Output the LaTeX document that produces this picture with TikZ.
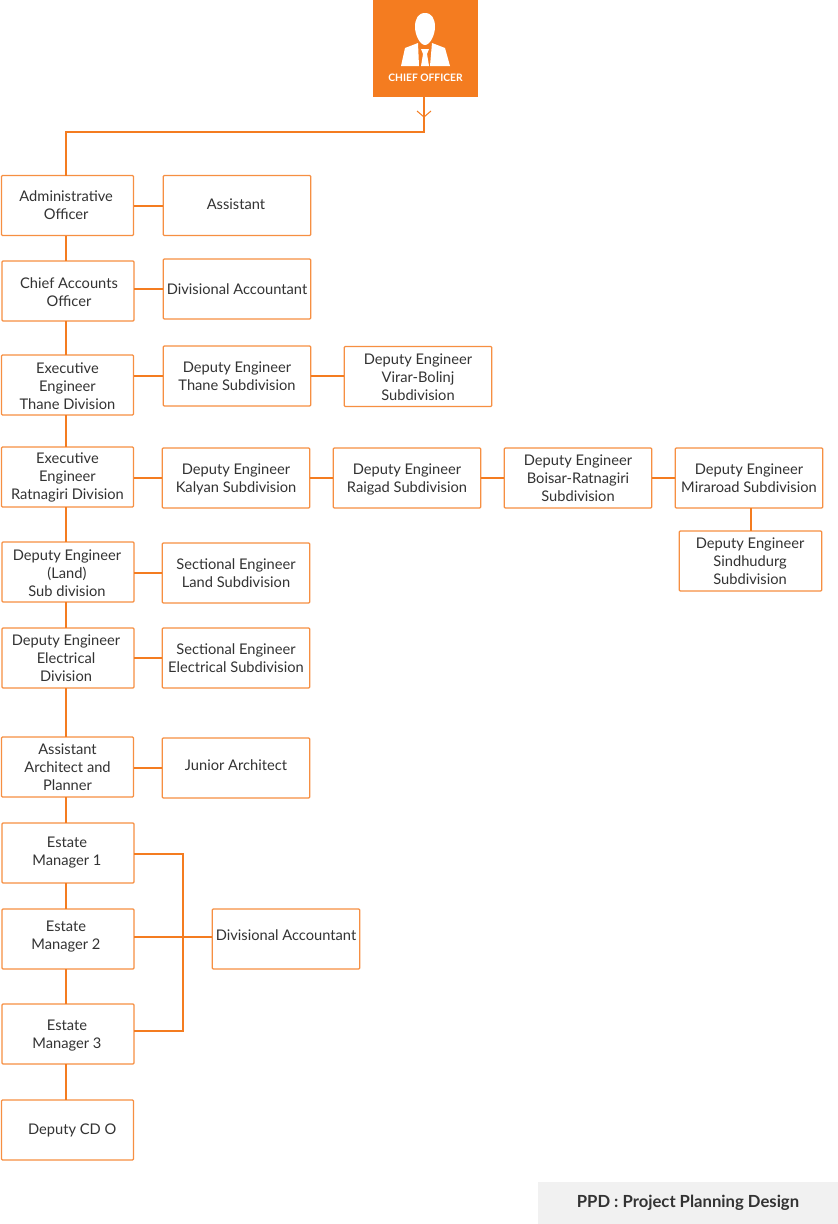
\documentclass[tikz,border=0pt]{standalone}
\usepackage{fontspec}
\setmainfont{Lato}
\definecolor{orgorange}{HTML}{F47C20}
\definecolor{orgedge}{HTML}{F68F42}
\definecolor{orgtext}{HTML}{333333}
\definecolor{orgband}{HTML}{F1F1F1}
\newcommand{\nudged}[3]{\leavevmode\kern#1\raisebox{#2}[\height][\depth]{\begin{tabular}{@{}c@{}}#3\end{tabular}}\kern-#1}
\tikzset{
  orgbox/.style={rectangle, draw=orgedge, line width=0.9pt, rounded corners=0.8pt, fill=white, text=orgtext, inner sep=0pt, outer sep=0pt, align=center, font=\fontsize{11pt}{13.5pt}\selectfont},
  mainbox/.style={orgbox, minimum width=99pt, minimum height=45pt},
  sidebox/.style={orgbox, minimum width=110.6pt, minimum height=45pt},
  orgline/.style={draw=orgorange, line width=1.5pt}
}
\begin{document}
\begin{tikzpicture}[x=0.75pt, y=-0.75pt]
      \useasboundingbox (0,0) rectangle (838,1224);

      \node[rectangle, fill=orgorange, minimum width=78.75pt, minimum height=72.75pt, inner sep=0pt, outer sep=0pt](chief) at (425.5,48.5){};
      \node[text=white, inner sep=0pt, font=\fontsize{7.7pt}{9pt}\selectfont\bfseries](chieflabel) at (425.5,77.5){CHIEF OFFICER};

      \node[mainbox](admin) at ( 67.5, 205.5){\nudged{-1pt}{-0.75pt}{Administrative\\Officer}};
      \node[sidebox](assistant) at (237.0, 205.5){\nudged{-0.75pt}{-0.35pt}{Assistant}};
      \node[mainbox](accounts) at ( 68.0, 291.0){\nudged{0.75pt}{-2.25pt}{Chief Accounts\\Officer}};
      \node[sidebox](divacc) at (237.0, 289.0){Divisional Accountant};
      \node[mainbox](exethane) at ( 67.5, 385.0){\nudged{0pt}{-2.25pt}{Executive\\Engineer\\Thane Division}};
      \node[sidebox](depthane) at (237.0, 376.0){Deputy Engineer\\Thane Subdivision};
      \node[sidebox](depvirar) at (418.0, 376.5){\nudged{0pt}{-1.5pt}{Deputy Engineer\\Virar-Bolinj\\Subdivision}};
      \node[mainbox](exeratna) at ( 67.5, 477.0){Executive\\Engineer\\Ratnagiri Division};
      \node[sidebox](depkalyan) at (236.0, 478.0){\nudged{0pt}{-1.5pt}{Deputy Engineer\\Kalyan Subdivision}};
      \node[sidebox](depraigad) at (407.0, 478.0){\nudged{0pt}{-1.5pt}{Deputy Engineer\\Raigad Subdivision}};
      \node[sidebox](depboisar) at (578.0, 478.0){Deputy Engineer\\Boisar-Ratnagiri\\Subdivision};
      \node[sidebox](depmira) at (749.0, 478.0){Deputy Engineer\\Miraroad Subdivision};
      \node[orgbox, minimum width=107pt, minimum height=45pt](depsindhu) at (750.5, 561.0){\nudged{-0.3pt}{-1.5pt}{Deputy Engineer\\Sindhudurg\\Subdivision}};
      \node[mainbox](depland) at ( 68.0, 572.0){\nudged{-0.75pt}{-2.25pt}{Deputy Engineer\\(Land)\\Sub division}};
      \node[sidebox](secland) at (236.0, 573.0){Sectional Engineer\\Land Subdivision};
      \node[mainbox](depelec) at ( 68.0, 658.0){\nudged{-1.5pt}{-1.5pt}{Deputy Engineer\\Electrical\\Division}};
      \node[sidebox](secelec) at (236.0, 658.0){Sectional Engineer\\Electrical Subdivision};
      \node[mainbox](architect) at ( 67.5, 767.0){Assistant\\Architect and\\Planner};
      \node[sidebox](junior) at (236.0, 768.0){\nudged{0pt}{0.75pt}{Junior Architect}};
      \node[mainbox](estateone) at ( 68.0, 853.0){\nudged{-0.75pt}{0pt}{Estate\\Manager 1}};
      \node[mainbox](estatetwo) at ( 68.0, 939.0){\nudged{-1.5pt}{1.5pt}{Estate\\Manager 2}};
      \node[mainbox](estatethree) at ( 68.0,1034.0){\nudged{-0.75pt}{-1.5pt}{Estate\\Manager 3}};
      \node[sidebox](divaccest) at (286.0, 939.0){\nudged{0pt}{1.5pt}{Divisional Accountant}};
      \node[mainbox](cdo) at ( 67.5,1130.0){\hspace*{7pt}Deputy CD O};

      \node[rectangle, fill=orgband, text=orgtext, minimum width=225pt, minimum height=31.5pt, inner sep=0pt, font=\fontsize{12.5pt}{14pt}\selectfont\bfseries](ppd) at (688,1203){PPD : Project Planning Design};

      % person in the header
      \fill[white] (425,13) .. controls (418,13) and (415,19) .. (415,27) .. controls (415,35) and (420,45) .. (425,45) .. controls (430,45) and (435,35) .. (435,27) .. controls (435,19) and (432,13) .. (425,13) -- cycle;
      \fill[white] (401,66) -- (405,48) -- (418,43) -- (419,66) -- cycle;
      \fill[white] (450,66) -- (445,48) -- (432,43) -- (430,66) -- cycle;
      \fill[white] (421,49) -- (429,49) -- (427,54) -- (429,66) -- (421,66) -- (423,54) -- cycle;

      \coordinate (bend) at (424,132);
      \coordinate (spine) at (66,132);
      \coordinate (chevl) at (417,111);
      \coordinate (chevt) at (424,117);
      \coordinate (chevr) at (431,111);
      \coordinate (rail) at (183,854);
      \coordinate (railmid) at (183,937);
      \coordinate (railend) at (183,1031);

      \draw[orgline] (chief.south -| bend) -- (bend) -- (spine) -- (spine |- admin.north);
      \draw[draw=orgorange, line width=0.75pt] (chevl) -- (chevt) -- (chevr);

      \draw[orgline] (spine |- admin.south) -- (spine |- accounts.north);
      \draw[orgline] (spine |- accounts.south) -- (spine |- exethane.north);
      \draw[orgline] (spine |- exethane.south) -- (spine |- exeratna.north);
      \draw[orgline] (spine |- exeratna.south) -- (spine |- depland.north);
      \draw[orgline] (spine |- depland.south) -- (spine |- depelec.north);
      \draw[orgline] (spine |- depelec.south) -- (spine |- architect.north);
      \draw[orgline] (spine |- architect.south) -- (spine |- estateone.north);
      \draw[orgline] (spine |- estateone.south) -- (spine |- estatetwo.north);
      \draw[orgline] (spine |- estatetwo.south) -- (spine |- estatethree.north);
      \draw[orgline] (spine |- estatethree.south) -- (spine |- cdo.north);

      \draw[orgline] (admin.east |- assistant.west) -- (assistant.west);
      \draw[orgline] (accounts.east |- divacc.west) -- (divacc.west);
      \draw[orgline] (exethane.east |- depthane.west) -- (depthane.west);
      \draw[orgline] (depthane.east) -- (depvirar.west |- depthane.east);
      \draw[orgline] (exeratna.east |- depkalyan.west) -- (depkalyan.west);
      \draw[orgline] (depkalyan) -- (depraigad);
      \draw[orgline] (depraigad) -- (depboisar);
      \draw[orgline] (depboisar) -- (depmira);
      \draw[orgline] (depmira.south -| depsindhu) -- (depsindhu.north);
      \draw[orgline] (depland.east |- secland.west) -- (secland.west);
      \draw[orgline] (depelec) -- (secelec);
      \draw[orgline] (architect.east |- junior.west) -- (junior.west);
      \draw[orgline] (estateone.east |- rail) -- (rail) -- (railend) -- (estatethree.east |- railend);
      \draw[orgline] (estatetwo.east |- railmid) -- (divaccest.west |- railmid);
    \end{tikzpicture}
\end{document}
